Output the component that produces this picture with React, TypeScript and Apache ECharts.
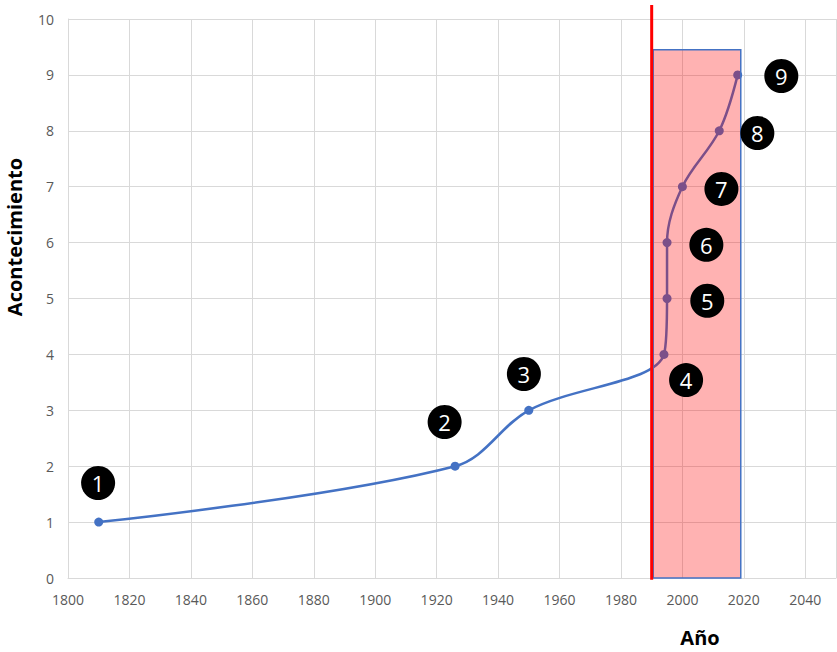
import React, { useEffect, useRef } from "react";
import * as echarts from "echarts";

const years = [1810, 1926, 1950, 1994, 1995, 1995, 2000, 2012, 2018];
const events = [1, 2, 3, 4, 5, 6, 7, 8, 9];
const badgeLabels = ["1", "2", "3", "4", "5", "6", "7", "8", "9"];
const badgeX = [1809.8, 1922.6, 1948.4, 2001.2, 2008.1, 2007.8, 2012.7, 2024.4, 2032.2];
const badgeY = [1.7, 2.79, 3.65, 3.54, 4.96, 5.96, 6.96, 7.96, 8.98];
const redLineYear = 1990;
const rectFrom = [1990.5, 9.45];
const rectTo = [2019, 0];

const FONT = "'Open Sans', 'Liberation Sans', sans-serif";

export default function App() {
  const ref = useRef<HTMLDivElement>(null);
  useEffect(() => {
    document.body.style.margin = "0";
    const chart = echarts.init(ref.current!, undefined, { renderer: "svg" });
    const lineData = years.map((y, i) => [y, events[i]]);
    const badgeData = badgeX.map((x, i) => ({ value: [x, badgeY[i]], name: badgeLabels[i] }));
    chart.setOption({
      animation: false,
      backgroundColor: "#ffffff",
      textStyle: { fontFamily: FONT },
      grid: { left: 68, right: 1, top: 19, bottom: 74 },
      xAxis: {
        type: "value",
        min: 1800,
        max: 2050,
        interval: 20,
        axisLine: { show: true, lineStyle: { color: "#D9D9D9", width: 1 } },
        axisTick: { show: false },
        splitLine: { show: true, lineStyle: { color: "#D9D9D9", width: 1 } },
        axisLabel: {
          color: "#595959",
          fontSize: 14,
          fontFamily: FONT,
          margin: 14,
          showMaxLabel: false,
          formatter: (v: number) => (v % 20 === 0 ? String(v) : ""),
        },
      },
      yAxis: {
        type: "value",
        min: 0,
        max: 10,
        interval: 1,
        axisLine: { show: true, lineStyle: { color: "#D9D9D9", width: 1 } },
        axisTick: { show: false },
        splitLine: { show: true, lineStyle: { color: "#D9D9D9", width: 1 } },
        axisLabel: { color: "#595959", fontSize: 14, fontFamily: FONT, margin: 14 },
      },
      graphic: [
        {
          type: "text",
          x: 14,
          y: 237,
          rotation: Math.PI / 2,
          style: {
            text: "Acontecimiento",
            font: `bold 20px ${FONT}`,
            fill: "#000000",
            align: "center",
            verticalAlign: "middle",
          },
        },
        {
          type: "text",
          x: 700,
          y: 637,
          style: {
            text: "Año",
            font: `bold 20px ${FONT}`,
            fill: "#000000",
            align: "center",
            verticalAlign: "middle",
          },
        },
      ],
      series: [
        {
          type: "line",
          data: lineData,
          smooth: 0.35,
          symbol: "circle",
          symbolSize: 9,
          itemStyle: { color: "#4472C4" },
          lineStyle: { color: "#4472C4", width: 2.5 },
          z: 2,
        },
        {
          type: "custom",
          data: [[rectFrom[0], rectFrom[1], rectTo[0], rectTo[1]]],
          silent: true,
          clip: false,
          z: 3,
          renderItem: (params: any, api: any) => {
            const p1 = api.coord([api.value(0), api.value(1)]);
            const p2 = api.coord([api.value(2), api.value(3)]);
            return {
              type: "rect",
              shape: {
                x: Math.min(p1[0], p2[0]),
                y: Math.min(p1[1], p2[1]),
                width: Math.abs(p2[0] - p1[0]),
                height: Math.abs(p2[1] - p1[1]),
              },
              style: {
                fill: "rgba(255,0,0,0.3)",
                stroke: "#4472C4",
                lineWidth: 1.5,
              },
            };
          },
        },
        {
          type: "line",
          data: [
            [redLineYear, 10.25],
            [redLineYear, -0.03],
          ],
          clip: false,
          symbol: "none",
          silent: true,
          lineStyle: { color: "#FF0000", width: 3 },
          z: 4,
        },
        {
          type: "scatter",
          data: badgeData,
          symbol: "circle",
          symbolSize: 34,
          itemStyle: { color: "#000000", opacity: 1 },
          clip: false,
          z: 5,
          label: {
            show: true,
            position: "inside",
            formatter: (p: any) => p.name,
            color: "#FFFFFF",
            fontSize: 22,
            fontFamily: FONT,
          },
        },
      ],
    });
    return () => chart.dispose();
  }, []);
  return (
    <div
      ref={ref}
      style={{ position: "absolute", left: 0, top: 0, width: 837, height: 652 }}
    />
  );
}
